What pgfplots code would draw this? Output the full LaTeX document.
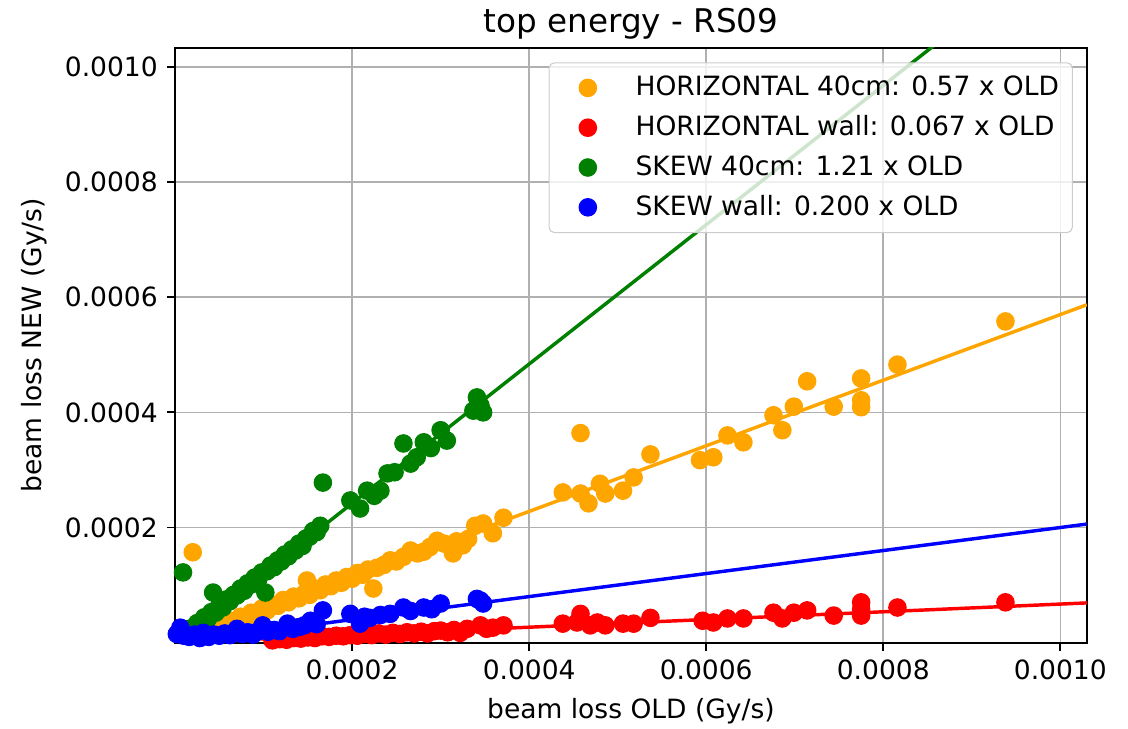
\documentclass[border=0pt]{standalone}
\usepackage{fontspec}
\setmainfont{DejaVu Sans}
\usepackage{pgfplots}
\pgfplotsset{compat=1.18}
\definecolor{mplorange}{HTML}{FFA500}
\definecolor{mplred}{HTML}{FF0000}
\definecolor{mplgreen}{HTML}{008000}
\definecolor{mplblue}{HTML}{0000FF}
\definecolor{gridgray}{HTML}{B0B0B0}
\definecolor{legendedge}{HTML}{CCCCCC}
\begin{document}
\begin{tikzpicture}
\begin{axis}[
  scale only axis, width=343.8pt, height=224.2pt,
  xmin=0, xmax=0.00103, ymin=0, ymax=0.001033,
  xtick={0.0002,0.0004,0.0006,0.0008,0.0010},
  xticklabels={0.0002,0.0004,0.0006,0.0008,0.0010},
  ytick={0.0002,0.0004,0.0006,0.0008,0.0010},
  yticklabels={0.0002,0.0004,0.0006,0.0008,0.0010},
  scaled ticks=false,
  grid=major, major grid style={gridgray, line width=0.6pt},
  tick align=outside, tick pos=left, major tick length=3pt,
  axis line style={line width=0.8pt},
  every tick/.style={black, line width=0.7pt},
  tick label style={font=\fontsize{10}{12}\selectfont},
  /pgf/number format/assume math mode=true,
  xlabel={beam loss OLD (Gy/s)}, ylabel={beam loss NEW (Gy/s)},
  label style={font=\fontsize{10}{12}\selectfont},
  legend style={at={(0.9846,0.976)}, anchor=north east, draw=legendedge, fill=white,
    fill opacity=0.8, text opacity=1, rounded corners=2pt,
    font=\fontsize{10}{12}\selectfont, row sep=2pt, inner sep=3pt},
  legend cell align=left,
  legend image code/.code={%
    \path (0pt,0pt) (27.2pt,0pt);
    \draw[#1, fill opacity=1, draw opacity=1] plot coordinates {(11.4pt,0pt)};},
  every axis plot/.append style={mark size=3.3pt},
]
% HORIZONTAL 40cm
\addplot[only marks, mark=*, color=mplorange, mark options={fill=mplorange, draw=mplorange}] coordinates {
(0.000020,0.000157) (0.000032,0.000016) (0.000038,0.000024) (0.000044,0.000022) (0.000050,0.000031)
(0.000056,0.000030) (0.000062,0.000038) (0.000068,0.000036) (0.000074,0.000045) (0.000080,0.000043)
(0.000086,0.000052) (0.000092,0.000050) (0.000098,0.000059) (0.000104,0.000056) (0.000110,0.000066)
(0.000116,0.000064) (0.000122,0.000074) (0.000128,0.000070) (0.000134,0.000080) (0.000140,0.000077)
(0.000149,0.000108) (0.000146,0.000085) (0.000152,0.000083) (0.000158,0.000094) (0.000164,0.000091)
(0.000170,0.000101) (0.000176,0.000098) (0.000182,0.000108) (0.000188,0.000104) (0.000194,0.000114)
(0.000200,0.000111) (0.000206,0.000121) (0.000212,0.000118) (0.000218,0.000127) (0.000224,0.000094)
(0.000228,0.000130) (0.000236,0.000135) (0.000243,0.000143) (0.000250,0.000141) (0.000258,0.000149)
(0.000266,0.000160) (0.000274,0.000155) (0.000281,0.000158) (0.000288,0.000166) (0.000296,0.000177)
(0.000304,0.000172) (0.000314,0.000155) (0.000318,0.000176) (0.000325,0.000169) (0.000331,0.000180)
(0.000339,0.000203) (0.000348,0.000207) (0.000359,0.000190) (0.000371,0.000217) (0.000438,0.000261)
(0.000458,0.000259) (0.000458,0.000364) (0.000467,0.000242) (0.000480,0.000276) (0.000486,0.000259)
(0.000506,0.000264) (0.000518,0.000287) (0.000537,0.000327) (0.000593,0.000317) (0.000608,0.000322)
(0.000624,0.000360) (0.000642,0.000348) (0.000676,0.000395) (0.000686,0.000369) (0.000699,0.000410)
(0.000714,0.000454) (0.000744,0.000410) (0.000775,0.000459) (0.000775,0.000421) (0.000775,0.000409)
(0.000816,0.000483) (0.000938,0.000558)
};
\addlegendentry{HORIZONTAL 40cm: 0.57 x OLD}
\addplot[mplorange, line width=1.3pt, forget plot] coordinates {(0,0) (0.00103,0.000587)};
% HORIZONTAL wall
\addplot[only marks, mark=*, color=mplred, mark options={fill=mplred, draw=mplred}] coordinates {
(0.000110,0.000004) (0.000118,0.000006) (0.000126,0.000005) (0.000134,0.000008) (0.000142,0.000007)
(0.000150,0.000009) (0.000158,0.000008) (0.000166,0.000011) (0.000174,0.000010) (0.000182,0.000012)
(0.000190,0.000011) (0.000198,0.000013) (0.000206,0.000012) (0.000214,0.000015) (0.000222,0.000013)
(0.000230,0.000016) (0.000238,0.000014) (0.000246,0.000017) (0.000254,0.000015) (0.000262,0.000018)
(0.000270,0.000016) (0.000278,0.000019) (0.000285,0.000016) (0.000293,0.000020) (0.000300,0.000021)
(0.000308,0.000018) (0.000315,0.000022) (0.000322,0.000017) (0.000330,0.000024) (0.000345,0.000030)
(0.000352,0.000024) (0.000359,0.000026) (0.000371,0.000030) (0.000438,0.000033) (0.000454,0.000035)
(0.000458,0.000050) (0.000469,0.000030) (0.000477,0.000035) (0.000486,0.000030) (0.000506,0.000033)
(0.000518,0.000033) (0.000537,0.000043) (0.000596,0.000038) (0.000608,0.000035) (0.000624,0.000042)
(0.000642,0.000042) (0.000676,0.000052) (0.000686,0.000042) (0.000699,0.000052) (0.000714,0.000056)
(0.000744,0.000047) (0.000775,0.000070) (0.000775,0.000047) (0.000775,0.000058) (0.000816,0.000061)
(0.000938,0.000070)
};
\addlegendentry{HORIZONTAL wall: 0.067 x OLD}
\addplot[mplred, line width=1.3pt, forget plot] coordinates {(0,0) (0.00103,0.000069)};
% SKEW 40cm
\addplot[only marks, mark=*, color=mplgreen, mark options={fill=mplgreen, draw=mplgreen}] coordinates {
(0.000009,0.000122) (0.000012,0.000012) (0.000016,0.000024) (0.000021,0.000022) (0.000025,0.000034)
(0.000029,0.000032) (0.000033,0.000044) (0.000037,0.000041) (0.000041,0.000053) (0.000043,0.000087)
(0.000046,0.000052) (0.000050,0.000064) (0.000054,0.000061) (0.000058,0.000075) (0.000062,0.000072)
(0.000066,0.000083) (0.000070,0.000082) (0.000074,0.000094) (0.000078,0.000090) (0.000082,0.000103)
(0.000086,0.000101) (0.000090,0.000113) (0.000094,0.000110) (0.000098,0.000122) (0.000102,0.000087)
(0.000104,0.000124) (0.000108,0.000134) (0.000112,0.000131) (0.000116,0.000143) (0.000120,0.000141)
(0.000124,0.000153) (0.000128,0.000150) (0.000132,0.000162) (0.000136,0.000160) (0.000140,0.000172)
(0.000144,0.000168) (0.000148,0.000181) (0.000152,0.000184) (0.000156,0.000194) (0.000160,0.000192)
(0.000164,0.000203) (0.000167,0.000278) (0.000198,0.000247) (0.000209,0.000233) (0.000217,0.000264)
(0.000225,0.000255) (0.000232,0.000264) (0.000240,0.000294) (0.000248,0.000296) (0.000258,0.000346)
(0.000266,0.000311) (0.000273,0.000322) (0.000281,0.000348) (0.000289,0.000338) (0.000300,0.000369)
(0.000307,0.000351) (0.000337,0.000403) (0.000341,0.000426) (0.000348,0.000400) (0.000345,0.000412)
};
\addlegendentry{SKEW 40cm: 1.21 x OLD}
\addplot[mplgreen, line width=1.3pt, forget plot] coordinates {(0,0) (0.00103,0.0012463)};
% SKEW wall
\addplot[only marks, mark=*, color=mplblue, mark options={fill=mplblue, draw=mplblue}] coordinates {
(0.000002,0.000015) (0.000006,0.000026) (0.000010,0.000012) (0.000016,0.000010) (0.000022,0.000014)
(0.000028,0.000008) (0.000032,0.000017) (0.000038,0.000010) (0.000044,0.000014) (0.000050,0.000012)
(0.000056,0.000016) (0.000062,0.000013) (0.000070,0.000024) (0.000076,0.000015) (0.000082,0.000018)
(0.000088,0.000014) (0.000094,0.000020) (0.000099,0.000030) (0.000105,0.000019) (0.000112,0.000022)
(0.000118,0.000020) (0.000127,0.000033) (0.000133,0.000024) (0.000140,0.000027) (0.000146,0.000030)
(0.000153,0.000038) (0.000160,0.000032) (0.000167,0.000056) (0.000198,0.000050) (0.000209,0.000033)
(0.000214,0.000045) (0.000220,0.000043) (0.000232,0.000048) (0.000243,0.000050) (0.000258,0.000061)
(0.000266,0.000055) (0.000281,0.000061) (0.000290,0.000058) (0.000300,0.000068) (0.000341,0.000076)
(0.000348,0.000068) (0.000345,0.000073)
};
\addlegendentry{SKEW wall: 0.200 x OLD}
\addplot[mplblue, line width=1.3pt, forget plot] coordinates {(0,0) (0.00103,0.000206)};
\end{axis}
\node[font=\fontsize{12.3}{14}\selectfont, anchor=base, inner sep=0pt] at ([yshift=5.7pt]current axis.north) {top energy - RS09};
\pgfresetboundingbox
\path[use as bounding box] ([shift={(-66pt,-32.5pt)}]current axis.south west) rectangle ([shift={(15.5pt,18.1pt)}]current axis.north east);
\end{tikzpicture}
\end{document}
